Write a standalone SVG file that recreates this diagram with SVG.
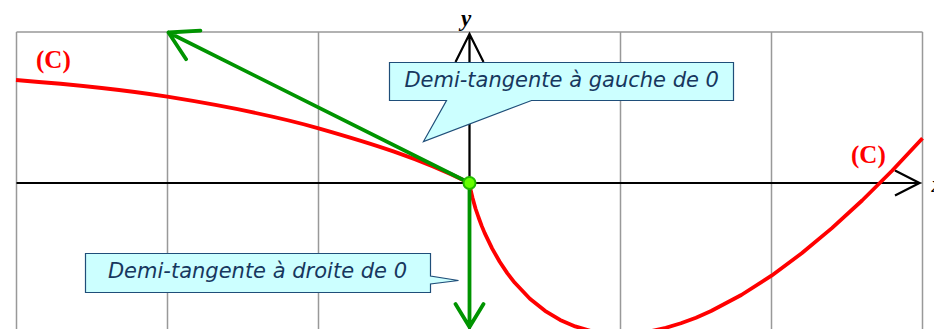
<svg xmlns="http://www.w3.org/2000/svg" width="934" height="329" viewBox="0 0 934 329">
<style>
.grid{stroke:#999;stroke-width:1.5;fill:none}
.axis{stroke:#000;stroke-width:2.2;fill:none}
.curve{stroke:#ff0000;stroke-width:3.8;fill:none;stroke-linejoin:round}
.tan{stroke:#009400;stroke-width:3.8;fill:none;stroke-linecap:round;stroke-linejoin:round}
.callout{fill:#ccffff;stroke:#1f4e79;stroke-width:1.2}
.ctext{font-family:"DejaVu Sans",Verdana,sans-serif;font-style:italic;font-size:21px;fill:#17375e;text-anchor:middle}
.clabel{font-family:"Liberation Serif","Times New Roman",serif;font-weight:bold;font-size:25px;fill:#ff0000}
.alabel{font-family:"Liberation Serif","Times New Roman",serif;font-weight:bold;font-style:italic;font-size:23px;fill:#000}
</style>
<rect width="934" height="329" fill="#fff"/>
<g id="grid" class="grid">
<path d="M16.5,32V329M167.5,32V329M318.5,32V329M469.5,32V329M620.5,32V329M771.5,32V329M922.5,32V329"/>
<path d="M16.5,32H922.5M16.5,183H922.5"/>
</g>
<g id="axes" class="axis">
<path d="M16.5,183H919.5M895,170.5L919.5,183L895,195.5"/>
<path d="M469.5,329V34M455.5,62L469.5,34L483.5,62"/>
</g>
<g id="curve-C">
<path class="curve" d="M16,80 C66.4,84 116.9,88.6 167.3,96.7 C217.7,104.8 268.2,113.9 318.6,128.3 C369,142.7 419.2,157.8 469.5,183 L470.3,187.8 L471,191.5 L472.5,197.8 L475.5,208.5 L478.6,217.5 L481.6,225.6 L484.6,232.9 L492.2,248.6 L499.7,261.8 L507.25,273.1 L514.8,282.8 L529.9,298.7 L545,310.8 L560.1,319.9 L575.2,326.4 L590.3,330.8 L605.4,333.2 L620.5,334 L635.6,333.3 L650.7,331.2 L665.8,327.8 L680.9,323.3 L696,317.7 L711.1,311 L741.3,295 L771.5,275.7 L801.7,253.3 L831.9,228.1 L862.1,200.5 L892.3,170.5 L922.5,138.3"/>
</g>
<g id="connectors">
<path id="tangent-left" class="tan" d="M469.5,183L168.5,32.5M200.4,30.6L168.5,32.5L186.1,59.2"/>
<path id="tangent-right" class="tan" d="M469.5,183V327M455.5,304L469.5,327L483.5,304"/>
</g>
<g id="point-O">
<circle cx="469.5" cy="183" r="6" fill="#66ff00" stroke="#22bb00" stroke-width="2"/>
</g>
<g id="callout-left">
<path class="callout" d="M389.5,62.5H733.5V100.5H531.5L423.5,141.5L446.5,100.5H389.5Z"/>
<text class="ctext" x="561.7" y="86.7">Demi-tangente à gauche de 0</text>
</g>
<g id="callout-right">
<path class="callout" d="M85.5,253.5H430.5V276L458.5,280.5L430.5,284V292.5H85.5Z"/>
<text class="ctext" x="257.5" y="278.3">Demi-tangente à droite de 0</text>
</g>
<g id="labels">
<text class="clabel" x="36" y="68">(C)</text>
<text class="clabel" x="851" y="163">(C)</text>
<text class="alabel" x="466" y="26" text-anchor="middle">y</text>
<text class="alabel" x="931.5" y="192">x</text>
</g>
</svg>
